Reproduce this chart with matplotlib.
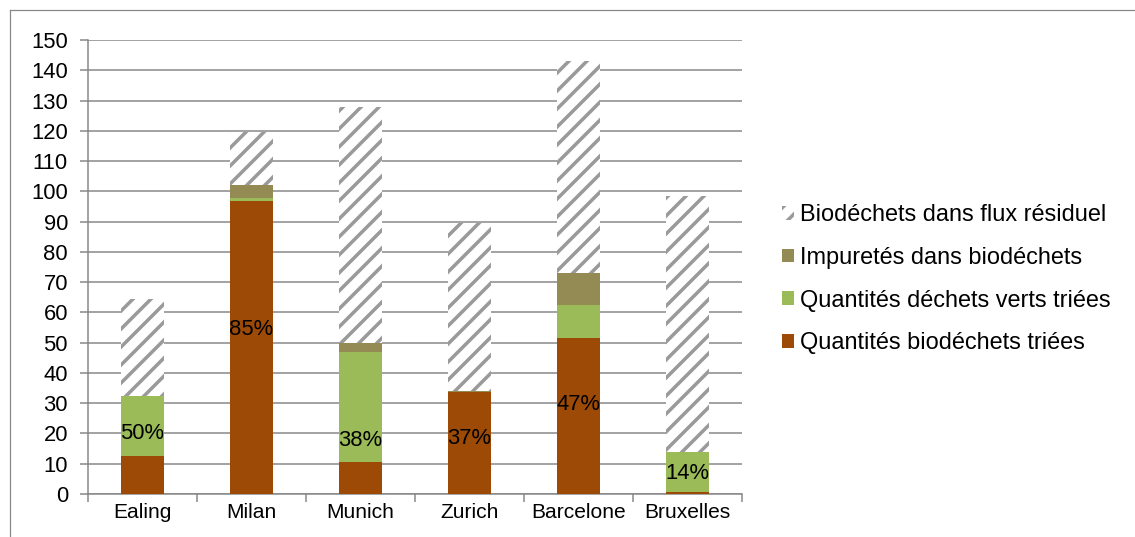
import numpy as np
import matplotlib
matplotlib.use("Agg")
import matplotlib.pyplot as plt
from matplotlib.lines import Line2D

dpi = 54
def px(v):
    # pixels -> points at this dpi
    return v * 72.0 / dpi

plt.rcParams['font.family'] = ['Liberation Sans', 'DejaVu Sans']
plt.rcParams['hatch.linewidth'] = px(3.5)

# Data
villes = ['Ealing', 'Milan', 'Munich', 'Zurich', 'Barcelone', 'Bruxelles']
bio_triees = [12.7, 96.8, 10.7, 33.6, 51.6, 0.8]
verts_triees = [19.7, 1.0, 36.3, 0.0, 10.8, 13.0]
impuretes = [0.0, 4.2, 2.8, 0.4, 10.7, 0.0]
flux_residuel = [32.0, 17.6, 78.2, 55.4, 70.0, 84.6]
pct_labels = ['50%', '85%', '38%', '37%', '47%', '14%']
pct_y = [20.0, 54.5, 17.8, 18.5, 29.7, 6.9]

c_brown = '#9C4A06'
c_green = '#9BBB59'
c_imp = '#948A54'
c_grid = '#868686'

fig = plt.figure(figsize=(1135 / dpi, 537 / dpi), dpi=dpi)
ax = fig.add_axes([88 / 1135, 43 / 537, (742 - 88) / 1135, (494 - 40) / 537])

x = np.arange(len(villes))
w = 0.4
b1 = np.array(bio_triees)
b2 = b1 + np.array(verts_triees)
b3 = b2 + np.array(impuretes)

ax.bar(x, bio_triees, w, color=c_brown, label='Quantités biodéchets triées', zorder=3)
ax.bar(x, verts_triees, w, bottom=b1, color=c_green, label='Quantités déchets verts triées', zorder=3)
ax.bar(x, impuretes, w, bottom=b2, color=c_imp, label='Impuretés dans biodéchets', zorder=3)
ax.bar(x, flux_residuel, w, bottom=b3, color='white', edgecolor='#9a9a9a', linewidth=0,
       hatch='/', label='Biodéchets dans flux résiduel', zorder=3)

for xi, lab, yi in zip(x, pct_labels, pct_y):
    ax.text(xi, yi, lab, ha='center', va='center', fontsize=px(22), color='black', zorder=4)

ax.set_ylim(0, 150)
ax.set_xlim(-0.5, len(villes) - 0.5)
ax.set_yticks(np.arange(0, 151, 10))
ax.yaxis.grid(True, color=c_grid, linewidth=px(1.5), zorder=0)
ax.set_axisbelow(True)

ax.set_xticks(x)
ax.set_xticklabels(villes)
ax.set_xticks(np.arange(-0.5, len(villes), 1), minor=True)
ax.tick_params(axis='x', which='major', length=0, labelsize=px(21), pad=px(9))
ax.tick_params(axis='x', which='minor', length=px(8), color=c_grid, width=px(1.5))
ax.tick_params(axis='y', length=px(8), color=c_grid, width=px(1.5), labelsize=px(22), pad=px(12))

for s in ['top', 'right']:
    ax.spines[s].set_visible(False)
for s in ['left', 'bottom']:
    ax.spines[s].set_color(c_grid)
    ax.spines[s].set_linewidth(px(1.5))

h, l = ax.get_legend_handles_labels()
ax.legend(h[::-1], l[::-1], loc='center left', bbox_to_anchor=(1.047, 0.473), frameon=False,
          fontsize=px(23.5), handlelength=0.52, handleheight=0.52, handletextpad=0.22,
          labelspacing=0.88, borderaxespad=0)

# outer chart frame
fig.add_artist(Line2D([10 / 1135, 10 / 1135], [0, 1 - 10 / 537], color=c_grid, lw=px(1.2)))
fig.add_artist(Line2D([10 / 1135, 1], [1 - 10 / 537, 1 - 10 / 537], color=c_grid, lw=px(1.2)))

fig.savefig('out.png', dpi=dpi)
